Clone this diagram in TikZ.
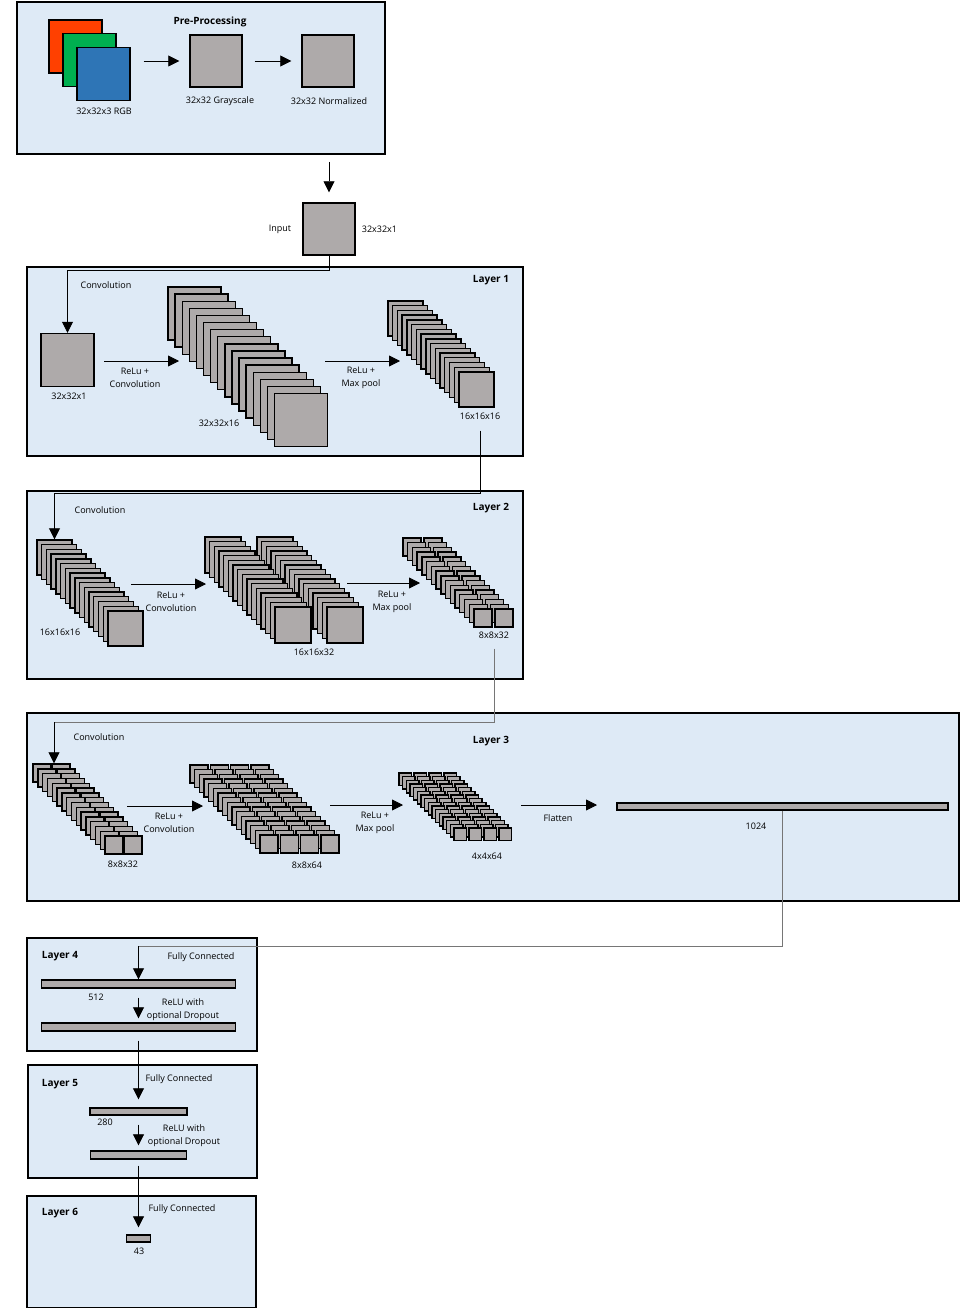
\documentclass[tikz,border=0pt]{standalone}
\usepackage{fontspec}
\setmainfont{Open Sans}
\usetikzlibrary{positioning,arrows.meta}

\definecolor{boxblue}{RGB}{222,234,246}
\definecolor{mapgray}{RGB}{174,170,170}
\definecolor{rgbred}{RGB}{255,64,0}
\definecolor{rgbgreen}{RGB}{0,176,80}
\definecolor{rgbblue}{RGB}{46,117,182}
\definecolor{wiregray}{RGB}{118,118,118}

\tikzset{
    layerbox/.style={draw, line width=1.8pt, fill=boxblue, anchor=north west, inner sep=0pt},
    fmap/.style={draw, line width=1.4pt, fill=mapgray, inner sep=0pt, minimum size=#1},
    fmap/.default=53,
    fcbar/.style={draw, line width=1.4pt, fill=mapgray, inner sep=0pt, minimum height=#1},
    fcbar/.default=7,
    txt/.style={font=\fontsize{9}{13}\selectfont, inner sep=1pt, align=center},
    ttl/.style={font=\fontsize{10}{12}\selectfont\bfseries, inner sep=1pt},
    flow/.style={line width=0.8pt, -{Triangle[length=11pt,width=11pt]}},
    wire/.style={line width=0.8pt, draw=wiregray},
}

\begin{document}
\begin{tikzpicture}[x=1pt, y=-1pt]
    \useasboundingbox (0,0) rectangle (959,1308);

    % pre-processing
    \node[layerbox, minimum width=368, minimum height=152] (pre) at (16,1) {};
    \node[ttl] (pretitle) at (210,22) {Pre-Processing};
    \node[fmap, fill=rgbred] (redch) at (75.5,46.5) {};
    \node[fmap, fill=rgbgreen] (greench) at (89.5,60) {};
    \node[fmap, fill=rgbblue] (bluech) at (103.5,74) {};
    \node[txt] (rgblbl) at (104,111) {32x32x3 RGB};
    \node[fmap=52] (grayimg) at (216,61) {};
    \node[txt] (graylbl) at (220,101) {32x32 Grayscale};
    \node[fmap=52] (normimg) at (328,61) {};
    \node[txt] (normlbl) at (329,101) {32x32 Normalized};
    \draw[flow, shorten <=13, shorten >=10] (bluech.east |- grayimg) -- (grayimg.west);
    \draw[flow, shorten <=12, shorten >=10] (grayimg.east) -- (normimg.west);

    % input
    \node[fmap=52] (input) at (329,229) {};
    \node[txt, left=10pt of input] (inputlbl) {Input};
    \node[txt, right=5pt of input] (inputdim) {32x32x1};
    \draw[flow, shorten <=7, shorten >=10] (pre.south -| input.north) -- (input.north);

    % layer 1
    \node[layerbox, minimum width=496, minimum height=189] (l1) at (26,266) {};
    \node[ttl] at (491,280) {Layer 1};
    \node[txt] (conv1) at (106,285) {Convolution};
    \node[fmap] (l1in) at (67.5,360) {};
    \node[txt] (l1inlbl) at (69,396) {32x32x1};
    \coordinate (k1) at (67.5,270);
    \draw[line width=0.8pt] (input.south) |- (k1);
    \draw[flow] (k1) -- (l1in.north);
    \foreach \i in {0,...,15}
        \node[fmap] (s1-\i) at (194.5+7.1*\i, 313.5+7.1*\i) {};
    \node[txt] (s1lbl) at (219,423) {32x32x16};
    \coordinate (a1) at (104,361);
    \coordinate (b1) at (179,361);
    \draw[flow] (a1) -- (b1);
    \node[txt] (op1) at (135,377.5) {ReLu +\\Convolution};
    \foreach \i in {0,...,15}
        \node[fmap=35] (p1-\i) at (405.5+4.73*\i, 318.5+4.73*\i) {};
    \node[txt] (p1lbl) at (480,416) {16x16x16};
    \coordinate (a2) at (325,361);
    \coordinate (b2) at (400,361);
    \draw[flow] (a2) -- (b2);
    \node[txt] (op2) at (361,377.5) {ReLu +\\Max pool};

    % layer 2
    \node[layerbox, minimum width=496, minimum height=188] (l2) at (26,490) {};
    \node[ttl] at (491,508) {Layer 2};
    \node[txt] (conv2) at (100,510) {Convolution};
    \foreach \i in {0,...,15}
        \node[fmap=35] (t2-\i) at (54.5+4.73*\i, 557.5+4.73*\i) {};
    \node[txt] (t2lbl) at (60,632) {16x16x16};
    \coordinate (k2) at (54.5,493);
    \draw[line width=0.8pt, shorten <=10] (p1lbl.south) |- (k2);
    \draw[flow] (k2) -- (t2-0.north);
    \foreach \i in {0,...,15}
        \foreach \c in {0,1}
            \node[fmap=36] (u2-\c-\i) at (223+52*\c+4.67*\i, 555+4.67*\i) {};
    \node[txt] (u2lbl) at (314,652) {16x16x32};
    \coordinate (a3) at (131,584);
    \coordinate (b3) at (206,584);
    \draw[flow] (a3) -- (b3);
    \node[txt] (op3) at (171,601.5) {ReLu +\\Convolution};
    \foreach \i in {0,...,15}
        \foreach \c in {0,1}
            \node[fmap=18] (v2-\c-\i) at (412+21*\c+4.73*\i, 547+4.73*\i) {};
    \node[txt] (v2lbl) at (494,635) {8x8x32};
    \coordinate (a4) at (347,583);
    \coordinate (b4) at (420,583);
    \draw[flow] (a4) -- (b4);
    \node[txt] (op4) at (392,601.5) {ReLu +\\Max pool};

    % layer 3
    \node[layerbox, minimum width=932, minimum height=188] (l3) at (26,712) {};
    \node[ttl] at (491,741) {Layer 3};
    \node[txt] (conv3) at (99,737) {Convolution};
    \foreach \i in {0,...,15}
        \foreach \c in {0,1}
            \node[fmap=18] (w3-\c-\i) at (42+19*\c+4.8*\i, 773+4.8*\i) {};
    \node[txt] (w3lbl) at (123,864) {8x8x32};
    \coordinate (k3) at (54,722);
    \draw[wire, shorten <=9] (v2lbl.south) |- (k3);
    \draw[flow] (k3) -- (k3 |- w3-0-0.north);
    \coordinate (a5) at (127,806);
    \coordinate (b5) at (203,806);
    \draw[flow] (a5) -- (b5);
    \node[txt] (op5) at (169,822.5) {ReLu +\\Convolution};
    \foreach \i in {0,...,15}
        \foreach \c in {0,1,2,3}
            \node[fmap=18] (x3-\c-\i) at (199+20.3*\c+4.67*\i, 774+4.67*\i) {};
    \node[txt] (x3lbl) at (307,865) {8x8x64};
    \coordinate (a6) at (330,805);
    \coordinate (b6) at (403,805);
    \draw[flow] (a6) -- (b6);
    \node[txt] (op6) at (375,822.5) {ReLu +\\Max pool};
    \foreach \i in {0,...,15}
        \foreach \c in {0,1,2,3}
            \node[fmap=12.5] (y3-\c-\i) at (405.25+15*\c+3.67*\i, 779.25+3.67*\i) {};
    \node[txt] (y3lbl) at (487,856) {4x4x64};
    \coordinate (a7) at (521,805);
    \coordinate (b7) at (597,805);
    \draw[flow] (a7) -- (b7);
    \node[txt] (op7) at (558,818) {Flatten};
    \node[fcbar, minimum width=331] (flat) at (782.5,806.5) {};
    \node[txt] (flatlbl) at (756,826) {1024};

    % layer 4
    \node[layerbox, minimum width=230, minimum height=113] (l4) at (26,937) {};
    \node[ttl] at (60,956) {Layer 4};
    \node[txt] (fcl4) at (201,957) {Fully Connected};
    \node[fcbar=8, minimum width=194] (fc1) at (138.5,984) {};
    \node[txt] (fc1lbl) at (96,997) {512};
    \node[fcbar=8, minimum width=194] (fc2) at (138.5,1027) {};
    \coordinate (k4) at (138.5,946);
    \draw[wire] (flat.south) |- (k4);
    \draw[flow] (k4) -- (fc1.north);
    \draw[flow, shorten <=9, shorten >=4] (fc1.south) -- (fc2.north);
    \node[txt] (drop4) at (183,1009.5) {ReLU with\\optional Dropout};

    % layer 5
    \node[layerbox, minimum width=229, minimum height=113] (l5) at (27,1064) {};
    \node[ttl] at (60,1084) {Layer 5};
    \node[txt] (fcl5) at (179,1079) {Fully Connected};
    \node[fcbar, minimum width=97] (fc3) at (138.5,1111.5) {};
    \node[txt] (fc3lbl) at (105,1122) {280};
    \node[fcbar=8, minimum width=96] (fc4) at (138.5,1155) {};
    \draw[flow, shorten <=9, shorten >=8] (fc2.south) -- (fc3.north);
    \draw[flow, shorten <=9, shorten >=5] (fc3.south) -- (fc4.north);
    \node[txt] (drop5) at (184,1135.5) {ReLU with\\optional Dropout};

    % layer 6
    \node[layerbox, minimum width=229, minimum height=112] (l6) at (26,1195) {};
    \node[ttl] at (60,1213) {Layer 6};
    \node[txt] (fcl6) at (182,1209) {Fully Connected};
    \node[fcbar, minimum width=24] (fc5) at (138.5,1238.5) {};
    \node[txt] (fc5lbl) at (139,1251) {43};
    \draw[flow, shorten <=6, shorten >=7] (fc4.south) -- (fc5.north);
\end{tikzpicture}
\end{document}
